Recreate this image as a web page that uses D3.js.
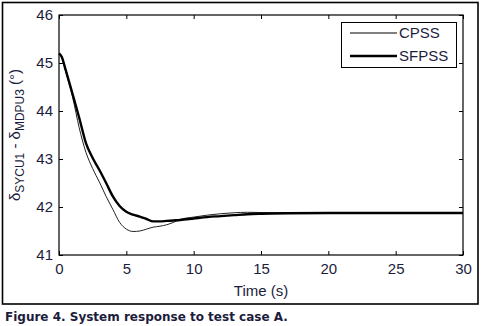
<!DOCTYPE html>
<html>
<head>
<meta charset="utf-8">
<script src="https://cdn.jsdelivr.net/npm/d3@7"></script>
<style>
  body { margin: 0; background: #fff; }
  svg { display: block; }
</style>
</head>
<body>
<div id="chart"></div>
<script>
// data
const time  = [0, 0.2, 0.5, 1, 1.5, 2, 2.5, 3, 3.5, 4, 4.5, 5, 5.5, 6, 6.5, 7, 7.5, 8, 8.5, 9, 10, 11, 12, 13, 14, 15, 17, 20, 25, 30];
const cpss  = [45.2, 45.13, 44.82, 44.3, 43.65, 43.14, 42.8, 42.52, 42.22, 41.95, 41.68, 41.54, 41.49, 41.5, 41.54, 41.58, 41.6, 41.63, 41.68, 41.74, 41.79, 41.83, 41.86, 41.88, 41.89, 41.885, 41.88, 41.88, 41.875, 41.875];
const sfpss = [45.2, 45.13, 44.85, 44.36, 43.86, 43.33, 43.02, 42.77, 42.5, 42.22, 42.02, 41.9, 41.84, 41.8, 41.75, 41.7, 41.7, 41.71, 41.72, 41.73, 41.76, 41.79, 41.81, 41.83, 41.85, 41.86, 41.87, 41.875, 41.875, 41.875];
const xTicks = [0, 5, 10, 15, 20, 25, 30];
const yTicks = [41, 42, 43, 44, 45, 46];
const seriesNames = ["CPSS", "SFPSS"];

const W = 481, H = 326;
const margin = { top: 15, right: 18, bottom: 71, left: 59 };
const width  = W - margin.left - margin.right;
const height = H - margin.top - margin.bottom;

const svg = d3.select('#chart')
  .append('svg')
  .attr('width', W)
  .attr('height', H);

// outer frame
svg.append('rect')
  .attr('x', 2.5).attr('y', 2.5)
  .attr('width', 475.5).attr('height', 301.5)
  .style('fill', 'none').style('stroke', '#000').style('stroke-width', 1.6);

const g = svg.append('g').attr('transform', `translate(${margin.left},${margin.top})`);

const x = d3.scaleLinear().domain([0, 30]).range([0, width]);
const y = d3.scaleLinear().domain([41, 46]).range([height, 0]);

// plot box
g.append('rect')
  .attr('width', width).attr('height', height)
  .style('fill', 'none').style('stroke', '#000').style('stroke-width', 1.2);

const tickColor = '#1c1c3c';
const fmt = d3.format('d');

// axes with inward ticks
const xAxis = g.append('g').attr('transform', `translate(0,${height})`)
  .call(d3.axisBottom(x).tickValues(xTicks).tickFormat(fmt).tickSizeInner(-4).tickSizeOuter(0).tickPadding(6));
g.append('g')
  .call(d3.axisTop(x).tickValues(xTicks).tickSizeInner(-4).tickSizeOuter(0).tickFormat(''));
const yAxis = g.append('g')
  .call(d3.axisLeft(y).tickValues(yTicks).tickFormat(fmt).tickSizeInner(-4).tickSizeOuter(0).tickPadding(6));
g.append('g').attr('transform', `translate(${width},0)`)
  .call(d3.axisRight(y).tickValues(yTicks).tickSizeInner(-4).tickSizeOuter(0).tickFormat(''));

g.selectAll('.domain').remove();
g.selectAll('.tick line').style('stroke', '#000');
g.selectAll('.tick text')
  .style('font-family', 'Liberation Sans, Arial, sans-serif')
  .style('font-size', '15px')
  .style('fill', tickColor);
xAxis.selectAll('.tick text').attr('dy', '0.85em');

// lines
const line = d3.line()
  .x((d, i) => x(time[i]))
  .y(d => y(d))
  .curve(d3.curveMonotoneX);

g.append('path').datum(cpss)
  .attr('d', line)
  .style('fill', 'none').style('stroke', '#222').style('stroke-width', 1);

g.append('path').datum(sfpss)
  .attr('d', line)
  .style('fill', 'none').style('stroke', '#000').style('stroke-width', 2.4);

// legend
const leg = svg.append('g');
leg.append('rect')
  .attr('x', 341.5).attr('y', 22.5).attr('width', 115).attr('height', 45)
  .style('fill', '#fff').style('stroke', '#000').style('stroke-width', 1);
[1, 2.4].forEach(function(sw, i) {
  leg.append('line')
    .attr('x1', 350).attr('x2', 397)
    .attr('y1', 33 + i * 23).attr('y2', 33 + i * 23)
    .style('stroke', '#000').style('stroke-width', sw);
  leg.append('text')
    .attr('x', 399).attr('y', 33 + i * 23).attr('dy', '0.36em')
    .text(seriesNames[i])
    .style('font-family', 'Liberation Sans, Arial, sans-serif')
    .style('font-size', '15px')
    .style('fill', tickColor);
});

// axis labels
svg.append('text')
  .attr('x', margin.left + width / 2).attr('y', 296)
  .attr('text-anchor', 'middle')
  .text('Time (s)')
  .style('font-family', 'Liberation Sans, Arial, sans-serif')
  .style('font-size', '15px')
  .style('fill', tickColor);

const yl = svg.append('text')
  .attr('transform', 'translate(20,135) rotate(-90)')
  .attr('text-anchor', 'middle')
  .style('font-family', 'Liberation Sans, Arial, sans-serif')
  .style('font-size', '15px')
  .style('fill', tickColor);
yl.append('tspan').text('δ');
yl.append('tspan').text('SYCU1').attr('dy', 4).style('font-size', '12px');
yl.append('tspan').text(' - δ').attr('dy', -4);
yl.append('tspan').text('MDPU3').attr('dy', 4).style('font-size', '12px');
yl.append('tspan').text('  (°)').attr('dy', -4);

// caption
svg.append('text')
  .attr('x', 5).attr('y', 321)
  .text('Figure 4. System response to test case A.')
  .style('font-family', 'DejaVu Sans, sans-serif')
  .style('font-weight', 'bold')
  .style('font-size', '12px')
  .style('fill', '#1c1c3c');
</script>
</body>
</html>
